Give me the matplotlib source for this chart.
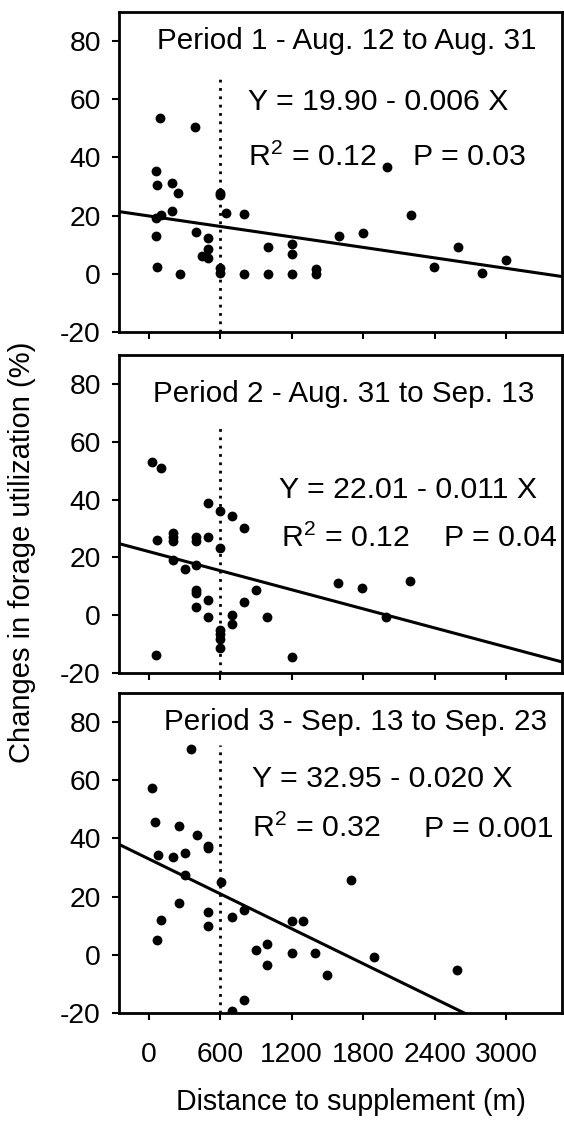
import numpy as np
import matplotlib
matplotlib.use('Agg')
import matplotlib.pyplot as plt

plt.rcParams['font.family'] = ['Liberation Sans', 'DejaVu Sans']
plt.rcParams['axes.unicode_minus'] = False

# Period 1 - Aug. 12 to Aug. 31
p1_x = [96, 391, 57, 72, 199, 247, 57, 102, 199, 57, 72, 265, 397, 500, 500, 451, 500,
        599, 600, 650, 600, 600, 801, 801, 999, 999, 1201, 1201, 1201, 1400, 1400,
        1595, 1797, 1999, 2203, 2399, 2598, 2796, 3001]
p1_y = [53.6, 50.6, 35.5, 30.7, 31.2, 27.8, 19.2, 20.1, 21.7, 12.9, 2.2, 0.0, 14.4, 12.3, 8.4, 6.0, 5.5,
        27.8, 27.2, 20.9, 2.0, 0.2, 0.0, 20.7, 9.3, 0.0, 10.1, 6.7, 0.0, 1.5, 0.0,
        12.9, 14.1, 36.7, 20.1, 2.5, 9.1, 0.2, 4.8]

# Period 2 - Aug. 31 to Sep. 13
p2_x = [24, 105, 69, 204, 204, 204, 204, 300, 399, 399, 399, 399, 399, 399,
        498, 498, 498, 498, 600, 600, 600, 600, 600, 600, 696, 696, 696, 798, 798,
        897, 996, 60, 1200, 1593, 1794, 2193, 1992]
p2_y = [52.9, 50.9, 26.0, 28.3, 27.1, 25.7, 19.1, 15.9, 26.9, 25.7, 17.2, 8.7, 7.6, 2.8,
        38.9, 27.1, 5.1, -0.5, 36.0, 23.3, -5.0, -6.6, -8.3, -11.4, 34.3, 0.1, -3.0, 30.0, 4.4,
        8.7, -0.5, -13.7, -14.6, 11.0, 9.3, 12.0, -0.5]

# Period 3 - Sep. 13 to Sep. 23
p3_x = [24, 51, 354, 75, 204, 252, 306, 402, 501, 501, 306, 252, 105, 66, 501, 501,
        603, 702, 801, 897, 996, 996, 1200, 1299, 1200, 1395, 1494, 1695, 1890, 2586,
        801, 702]
p3_y = [57.4, 45.7, 70.8, 34.2, 33.5, 44.1, 35.1, 41.1, 37.3, 36.8, 27.5, 17.9, 12.1, 5.2, 14.6, 10.0,
        25.0, 12.9, 15.5, 1.6, 3.8, -3.6, 11.5, 11.5, 0.6, 0.6, -6.9, 25.7, -0.7, -5.3,
        -15.7, -19.2]

titles = ["Period 1 - Aug. 12 to Aug. 31",
          "Period 2 - Aug. 31 to Sep. 13",
          "Period 3 - Sep. 13 to Sep. 23"]
intercepts = [19.90, 22.01, 32.95]
slopes = [-0.006, -0.011, -0.020]
equations = ["Y = 19.90 - 0.006 X", "Y = 22.01 - 0.011 X", "Y = 32.95 - 0.020 X"]
r2_text = ["$\\mathregular{R^2}$ = 0.12", "$\\mathregular{R^2}$ = 0.12", "$\\mathregular{R^2}$ = 0.32"]
p_text = ["P = 0.03", "P = 0.04", "P = 0.001"]
x_ticks = [0, 600, 1200, 1800, 2400, 3000]
y_ticks = [-20, 0, 20, 40, 60, 80]
supplement_dist = 600
dotted_top = [68, 66, 72]

xs = [p1_x, p2_x, p3_x]
ys = [p1_y, p2_y, p3_y]

# text positions (data coords)
title_pos = [(1661, 80), (1638, 76.5), (1740, 80)]
eq_pos = [(834, 59), (1095, 43.2), (870, 60.5)]
r2_pos = [(834, 40), (1110, 26.6), (870, 43.4)]
p_pos = [(2218, 40), (2475, 26.6), (2310, 43.4)]

fig = plt.figure(figsize=(5.64, 11.24), dpi=100)
boxes = [(0.7046, 0.9893), (0.4012, 0.6842), (0.0988, 0.3835)]
left, right = 0.211, 0.9965

xlim = (-250, 3470)
for i in range(3):
    b, t = boxes[i]
    ax = fig.add_axes([left, b, right - left, t - b])
    ax.scatter(xs[i], ys[i], s=50, color='black', zorder=3, linewidths=0)
    xl = np.array(xlim)
    ax.plot(xl, intercepts[i] + slopes[i] * xl, color='black', lw=2.2, zorder=2)
    ax.plot([supplement_dist, supplement_dist], [-20, dotted_top[i]], color='black',
            lw=2, linestyle=(0, (1, 2)), zorder=1)
    ax.set_xlim(xlim)
    ax.set_ylim(-20, 90)
    ax.set_xticks(x_ticks)
    ax.set_yticks(y_ticks)
    ax.tick_params(direction='out', length=5, width=1.5, labelsize=20.3, pad=8)
    ax.tick_params(axis='x', pad=16)
    if i < 2:
        ax.set_xticklabels([])
    for s in ax.spines.values():
        s.set_linewidth(2)
    ax.text(title_pos[i][0], title_pos[i][1], titles[i], fontsize=21.3,
            ha='center', va='center')
    ax.text(eq_pos[i][0], eq_pos[i][1], equations[i], fontsize=21.8, ha='left', va='center')
    ax.text(r2_pos[i][0], r2_pos[i][1], r2_text[i], fontsize=21.8, ha='left', va='center')
    ax.text(p_pos[i][0], p_pos[i][1], p_text[i], fontsize=21.8, ha='left', va='center')

fig.text(0.623, 1 - 1102 / 1124, "Distance to supplement (m)", fontsize=20.6,
         ha='center', va='center')
fig.text(0.039, 1 - 552 / 1124, "Changes in forage utilization (%)", fontsize=21,
         ha='center', va='center', rotation=90)

fig.savefig('out.png', dpi=100)
